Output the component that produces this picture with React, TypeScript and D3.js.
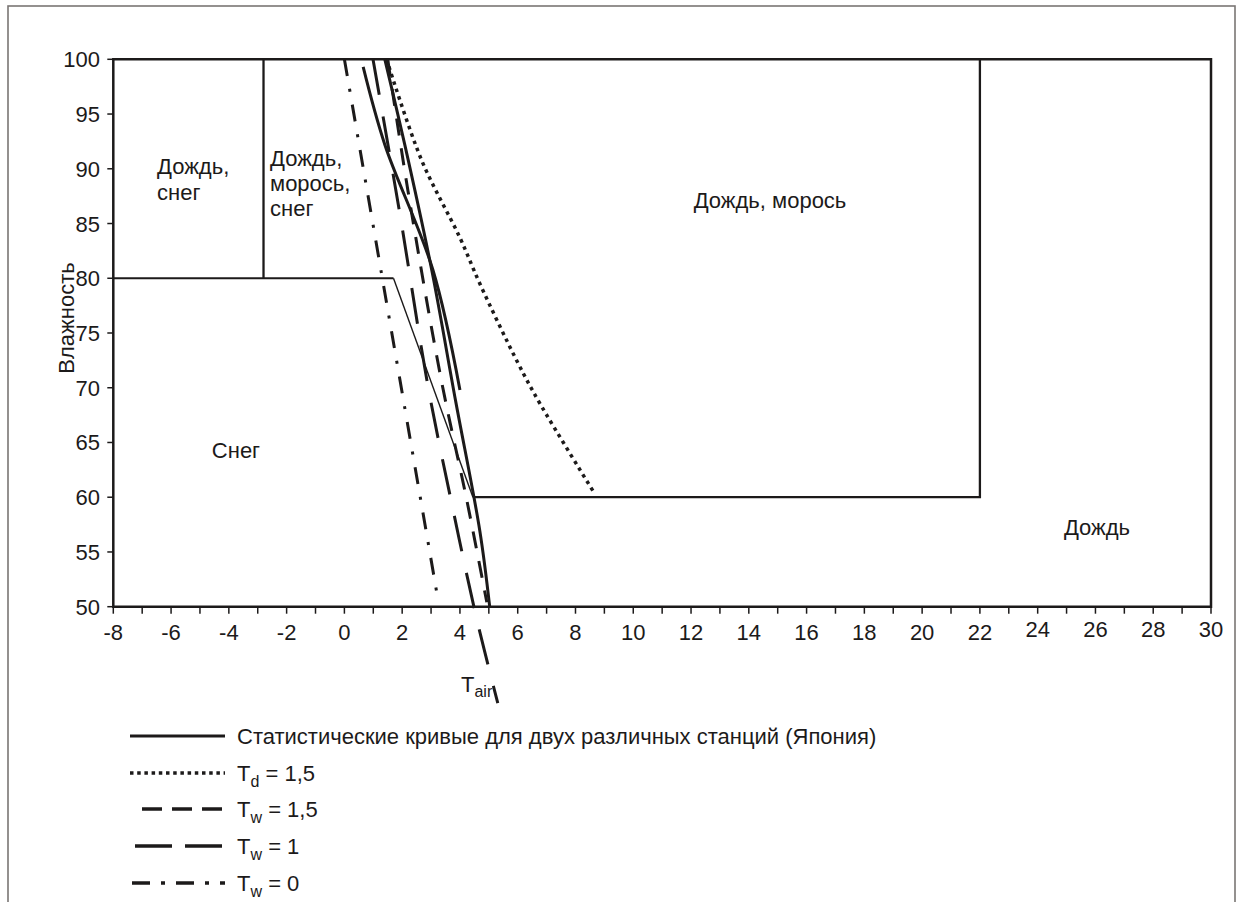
import React from "react";
import * as d3 from "d3";

// ---- data ----
const xTickValues = d3.range(-8, 31, 1);
const xLabelValues = d3.range(-8, 31, 2);
const yTickValues = [50, 55, 60, 65, 70, 75, 80, 85, 90, 95, 100];

// statistical curves (two stations, Japan)
const statCurveA: [number, number][] = [[0.65, 99.3], [1.4, 92.2], [3.06, 80.8], [4.0, 69.8]];
const statCurveB: [number, number][] = [[1.4, 100], [2.09, 92.2], [3.02, 80.8], [3.85, 68.8], [4.69, 56.9], [5.03, 50]];
// Td = 1.5
const td15: [number, number][] = [[1.46, 100], [2.67, 90.8], [4.0, 83.7], [4.69, 79.5], [6.0, 72.3], [6.76, 68.6], [8.6, 60.6]];
// Tw = 1.5
const tw15: [number, number][] = [[1.5, 100], [2.2, 88], [3.34, 70.9], [4.24, 59.7], [4.93, 50.4]];
// Tw = 1
const tw1: [number, number][] = [[0.99, 100], [1.92, 85.9], [2.89, 70.2], [3.71, 59.5], [4.57, 49.0], [5.31, 41.2]];
// Tw = 0
const tw0: [number, number][] = [[0, 100], [3.25, 50.5]];

// region boundaries
const boundary80: [number, number][] = [[-8, 80], [1.7, 80]];
const boundaryDiag: [number, number][] = [[1.7, 80], [4.45, 60]];
const boundary60: [number, number][] = [[4.45, 60], [22, 60], [22, 100]];
const boundaryLeft: [number, number][] = [[-2.8, 80], [-2.8, 100]];

const legendLabels = [
  { main: "Статистические кривые для двух различных станций (Япония)", sub: "", rest: "" },
  { main: "T", sub: "d", rest: " = 1,5" },
  { main: "T", sub: "w", rest: " = 1,5" },
  { main: "T", sub: "w", rest: " = 1" },
  { main: "T", sub: "w", rest: " = 0" },
];

const INK = "#1c1a1a";
const FONT = "'Liberation Sans', Arial, sans-serif";

export default function App() {
  const x = d3.scaleLinear().domain([-8, 30]).range([113.3, 1211]);
  const y = d3.scaleLinear().domain([50, 100]).range([606.7, 59.3]);
  const line = d3.line<[number, number]>().x((d) => x(d[0])).y((d) => y(d[1]));
  const curve = d3
    .line<[number, number]>()
    .x((d) => x(d[0]))
    .y((d) => y(d[1]))
    .curve(d3.curveCatmullRom.alpha(0.5));

  const legendRows = [
    { y: 736, dash: "", w: 3, x1: 130, x2: 225 },
    { y: 773, dash: "3.5,3.7", w: 3.5, x1: 130, x2: 225 },
    { y: 809, dash: "20,10", w: 3.5, x1: 142, x2: 225 },
    { y: 846, dash: "37,13", w: 3.5, x1: 135, x2: 225 },
    { y: 883, dash: "18,11,4,11", w: 3.5, x1: 132, x2: 225 },
  ];

  return (
    <svg
      width={1236}
      height={902}
      style={{ position: "absolute", left: 0, top: 0, background: "#fff" }}
      fontFamily={FONT}
    >
      {/* outer frame */}
      <rect x={8} y={6} width={1227} height={1000} fill="none" stroke="#7a7674" strokeWidth={1.6} />

      {/* plot box */}
      <path
        d={`M${x(-8)},${y(50)}V${y(100)}H${x(30)}V${y(50)}Z`}
        fill="none"
        stroke={INK}
        strokeWidth={2.5}
      />

      {/* x ticks */}
      {xTickValues.map((v) => (
        <line key={"xt" + v} x1={x(v)} x2={x(v)} y1={y(50)} y2={y(50) + 7} stroke={INK} strokeWidth={1.5} />
      ))}
      {xLabelValues.map((v) => (
        <text key={"xl" + v} x={x(v)} y={v > 22 ? 637 : 640} textAnchor="middle" fontSize={22} fill={INK}>
          {v}
        </text>
      ))}
      {/* y ticks */}
      {yTickValues.map((v) => (
        <g key={"yt" + v}>
          <line x1={x(-8) - 6} x2={x(-8)} y1={y(v)} y2={y(v)} stroke={INK} strokeWidth={1.5} />
          <text x={100} y={y(v) + 8} textAnchor="end" fontSize={22} fill={INK}>
            {v}
          </text>
        </g>
      ))}

      {/* axis titles */}
      <text transform={`translate(74,${318}) rotate(-90)`} textAnchor="middle" fontSize={22} fill={INK}>
        Влажность
      </text>
      <text x={461} y={692} fontSize={22} fill={INK}>
        T<tspan dy={5} fontSize={16}>air</tspan>
      </text>

      {/* region boundaries */}
      <path d={line(boundary80)!} fill="none" stroke={INK} strokeWidth={2} />
      <path d={line(boundaryDiag)!} fill="none" stroke={INK} strokeWidth={1.4} />
      <path d={line(boundary60)!} fill="none" stroke={INK} strokeWidth={2.3} />
      <path d={line(boundaryLeft)!} fill="none" stroke={INK} strokeWidth={2.3} />

      {/* region labels */}
      <g fontSize={22} fill={INK}>
        <text x={157} y={174}>Дождь,</text>
        <text x={157} y={200}>снег</text>
        <text x={270} y={166}>Дождь,</text>
        <text x={270} y={191}>морось,</text>
        <text x={270} y={216}>снег</text>
        <text x={770} y={208} textAnchor="middle">Дождь, морось</text>
        <text x={236} y={458} textAnchor="middle">Снег</text>
        <text x={1097} y={535} textAnchor="middle">Дождь</text>
      </g>

      {/* curves */}
      <path d={curve(tw0)!} fill="none" stroke={INK} strokeWidth={3} strokeDasharray="17,13,3,13" />
      <path d={curve(tw1)!} fill="none" stroke={INK} strokeWidth={3} strokeDasharray="36,22" />
      <path d={curve(tw15)!} fill="none" stroke={INK} strokeWidth={3} strokeDasharray="17,13" />
      <path d={curve(td15)!} fill="none" stroke={INK} strokeWidth={3.5} strokeDasharray="3.5,4.3" />
      <path d={curve(statCurveA)!} fill="none" stroke={INK} strokeWidth={3} />
      <path d={curve(statCurveB)!} fill="none" stroke={INK} strokeWidth={3} />

      {/* legend */}
      {legendRows.map((r, i) => (
        <g key={"lg" + i}>
          <line x1={r.x1} x2={r.x2} y1={r.y} y2={r.y} stroke={INK} strokeWidth={r.w} strokeDasharray={r.dash || undefined} />
          <text x={237} y={r.y + 8} fontSize={22} fill={INK}>
            {legendLabels[i].main}
            {legendLabels[i].sub ? (
              <tspan dy={6} fontSize={16}>
                {legendLabels[i].sub}
              </tspan>
            ) : null}
            {legendLabels[i].rest ? <tspan dy={-6}>{legendLabels[i].rest}</tspan> : null}
          </text>
        </g>
      ))}
    </svg>
  );
}
